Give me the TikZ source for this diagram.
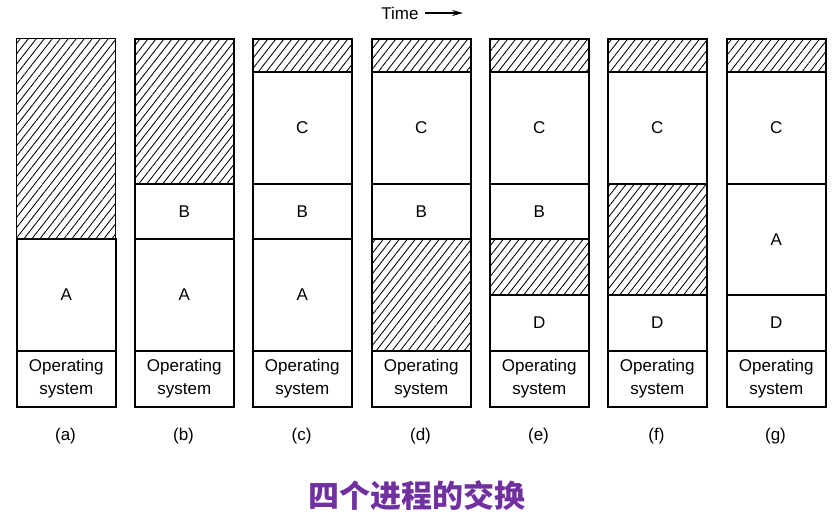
\documentclass[tikz,border=0pt]{standalone}
\usepackage{fontspec}
\setmainfont{Liberation Sans}
\newfontfamily\cjk{Noto Sans CJK SC}
\usetikzlibrary{
  patterns.meta,
  arrows.meta,
  positioning
}
\definecolor{titlepurple}{RGB}{112,48,160}

\tikzset{
  seg/.style={draw, line width=1.6pt, minimum width=99pt, inner sep=0pt,
    anchor=north west, align=center, font=\fontsize{17}{23}\selectfont},
  hole/.style={seg, pattern={Lines[angle=52,distance=6.3pt,line width=0.85pt]}},
  tag/.style={font=\fontsize{17}{20}\selectfont}
}
% one memory segment: [style]{name}{left}{top}{bottom}{text}
\newcommand{\segbox}[6][seg]{%
  \node[#1, minimum height={(#5-#4)*1pt}] (#2) at (#3,#4) {#6};}

\begin{document}
\begin{tikzpicture}[x=1pt,y=-1pt]
\useasboundingbox (0,0) rectangle (833,515);

% time arrow
\node[tag] (time) at (400,13) {Time};
\coordinate (time-end) at (463,13);
\draw[line width=1.2pt, shorten <=3pt, -{Stealth[length=11pt,width=6pt]}] (time.east) -- (time-end);

% (a)
\segbox[hole]{a-hole}{16}{38}{238}{}
\segbox{a-A}{16}{238}{350}{A}
\segbox{a-os}{16}{350}{406}{Operating\\system}
% (b)
\segbox[hole]{b-hole}{134}{38}{183}{}
\segbox{b-B}{134}{183}{238}{B}
\segbox{b-A}{134}{238}{350}{A}
\segbox{b-os}{134}{350}{406}{Operating\\system}
% (c)
\segbox[hole]{c-hole}{252}{38}{71}{}
\segbox{c-C}{252}{71}{183}{C}
\segbox{c-B}{252}{183}{238}{B}
\segbox{c-A}{252}{238}{350}{A}
\segbox{c-os}{252}{350}{406}{Operating\\system}
% (d)
\segbox[hole]{d-hole}{371}{38}{71}{}
\segbox{d-C}{371}{71}{183}{C}
\segbox{d-B}{371}{183}{238}{B}
\segbox[hole]{d-hole2}{371}{238}{350}{}
\segbox{d-os}{371}{350}{406}{Operating\\system}
% (e)
\segbox[hole]{e-hole}{489}{38}{71}{}
\segbox{e-C}{489}{71}{183}{C}
\segbox{e-B}{489}{183}{238}{B}
\segbox[hole]{e-hole2}{489}{238}{294}{}
\segbox{e-D}{489}{294}{350}{D}
\segbox{e-os}{489}{350}{406}{Operating\\system}
% (f)
\segbox[hole]{f-hole}{607}{38}{71}{}
\segbox{f-C}{607}{71}{183}{C}
\segbox[hole]{f-hole2}{607}{183}{294}{}
\segbox{f-D}{607}{294}{350}{D}
\segbox{f-os}{607}{350}{406}{Operating\\system}
% (g)
\segbox[hole]{g-hole}{726}{38}{71}{}
\segbox{g-C}{726}{71}{183}{C}
\segbox{g-A}{726}{183}{294}{A}
\segbox{g-D}{726}{294}{350}{D}
\segbox{g-os}{726}{350}{406}{Operating\\system}

% captions
\node[tag] (a-tag) at (65.5,436) {(a)};
\node[tag] (b-tag) at (183.5,436) {(b)};
\node[tag] (c-tag) at (301.5,436) {(c)};
\node[tag] (d-tag) at (420.5,436) {(d)};
\node[tag] (e-tag) at (538.5,436) {(e)};
\node[tag] (f-tag) at (656.5,436) {(f)};
\node[tag] (g-tag) at (775.5,436) {(g)};

\node[font=\cjk\bfseries\fontsize{31}{31}\selectfont, text=titlepurple] (title) at (417,496) {四个进程的交换};
\end{tikzpicture}
\end{document}
